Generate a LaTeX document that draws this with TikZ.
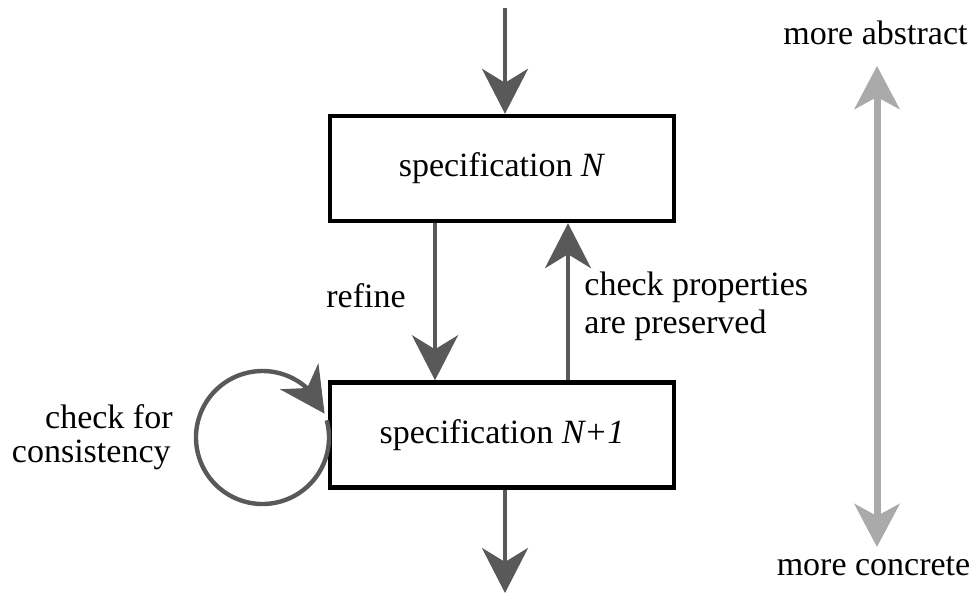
\documentclass[tikz,border=0pt]{standalone}
\usepackage{fontspec}
\setmainfont{Liberation Serif}
\usetikzlibrary{arrows.meta,bending}
\definecolor{flowgrey}{HTML}{595959}
\definecolor{scalegrey}{HTML}{AAAAAA}
\begin{document}
\begin{tikzpicture}[x=0.5pt,y=0.5pt,
  font=\fontsize{17}{19}\selectfont,
  spec/.style={draw=black, line width=2.2pt, minimum width=172pt,
    minimum height=52.5pt, inner sep=0pt},
  flow/.style={draw=flowgrey, line width=2.2pt,
    -{Stealth[length=22.5pt, width=23pt, inset=7pt]}},
  scale arrow/.style={draw=scalegrey, line width=3.5pt,
    {Stealth[length=21.5pt, width=22.5pt, inset=6pt]}-{Stealth[length=21.5pt, width=22.5pt, inset=6pt]}},
  lbl/.style={inner sep=0pt}]
\useasboundingbox (0,0) rectangle (974,-599);

% the two specification levels
\node[spec] (specN)  at (502,-168.5) {specification \textit{N}};
\node[spec] (specN1) at (502,-435)   {specification \textit{N+1}};

% entry and exit of the chain
\coordinate (entry) at (505,-8);
\coordinate (exit)  at (505,-593);
\draw[flow] (entry) -- (entry |- specN.north);
\draw[flow] (exit |- specN1.south) -- (exit);

% refinement and property check
\coordinate (refx)  at (435,0);
\coordinate (chkx)  at (568,0);
\draw[flow] (refx |- specN.south) -- (refx |- specN1.north);
\draw[flow] (chkx |- specN1.north) -- (chkx |- specN.south);
\node[lbl, anchor=base west] (lrefine) at (326,-307) {refine};
\node[lbl, anchor=base west] (lcheck1) at (584,-295) {check properties};
\node[lbl, anchor=base west] (lcheck2) at (584,-333) {are preserved};

% self check loop
\coordinate (loopc) at (262.5,-437.5);
\draw[draw=flowgrey, line width=2.2pt,
  -{Stealth[flex, length=22.5pt, width=23pt, inset=7pt]}]
  ([shift={(375:66.5)}]loopc) arc[start angle=375, end angle=21, radius=66.5];
\node[lbl, anchor=base east] (lloop1) at (173,-428) {check for};
\node[lbl, anchor=base east] (lloop2) at (171,-462) {consistency};

% abstraction scale
\coordinate (top)    at (877,-66);
\coordinate (bottom) at (877,-547);
\draw[scale arrow] (bottom) -- (top);
\node[lbl, anchor=base] (labs) at (875.5,-45) {more abstract};
\node[lbl, anchor=base] (lcon) at (873.5,-575) {more concrete};
\end{tikzpicture}
\end{document}
